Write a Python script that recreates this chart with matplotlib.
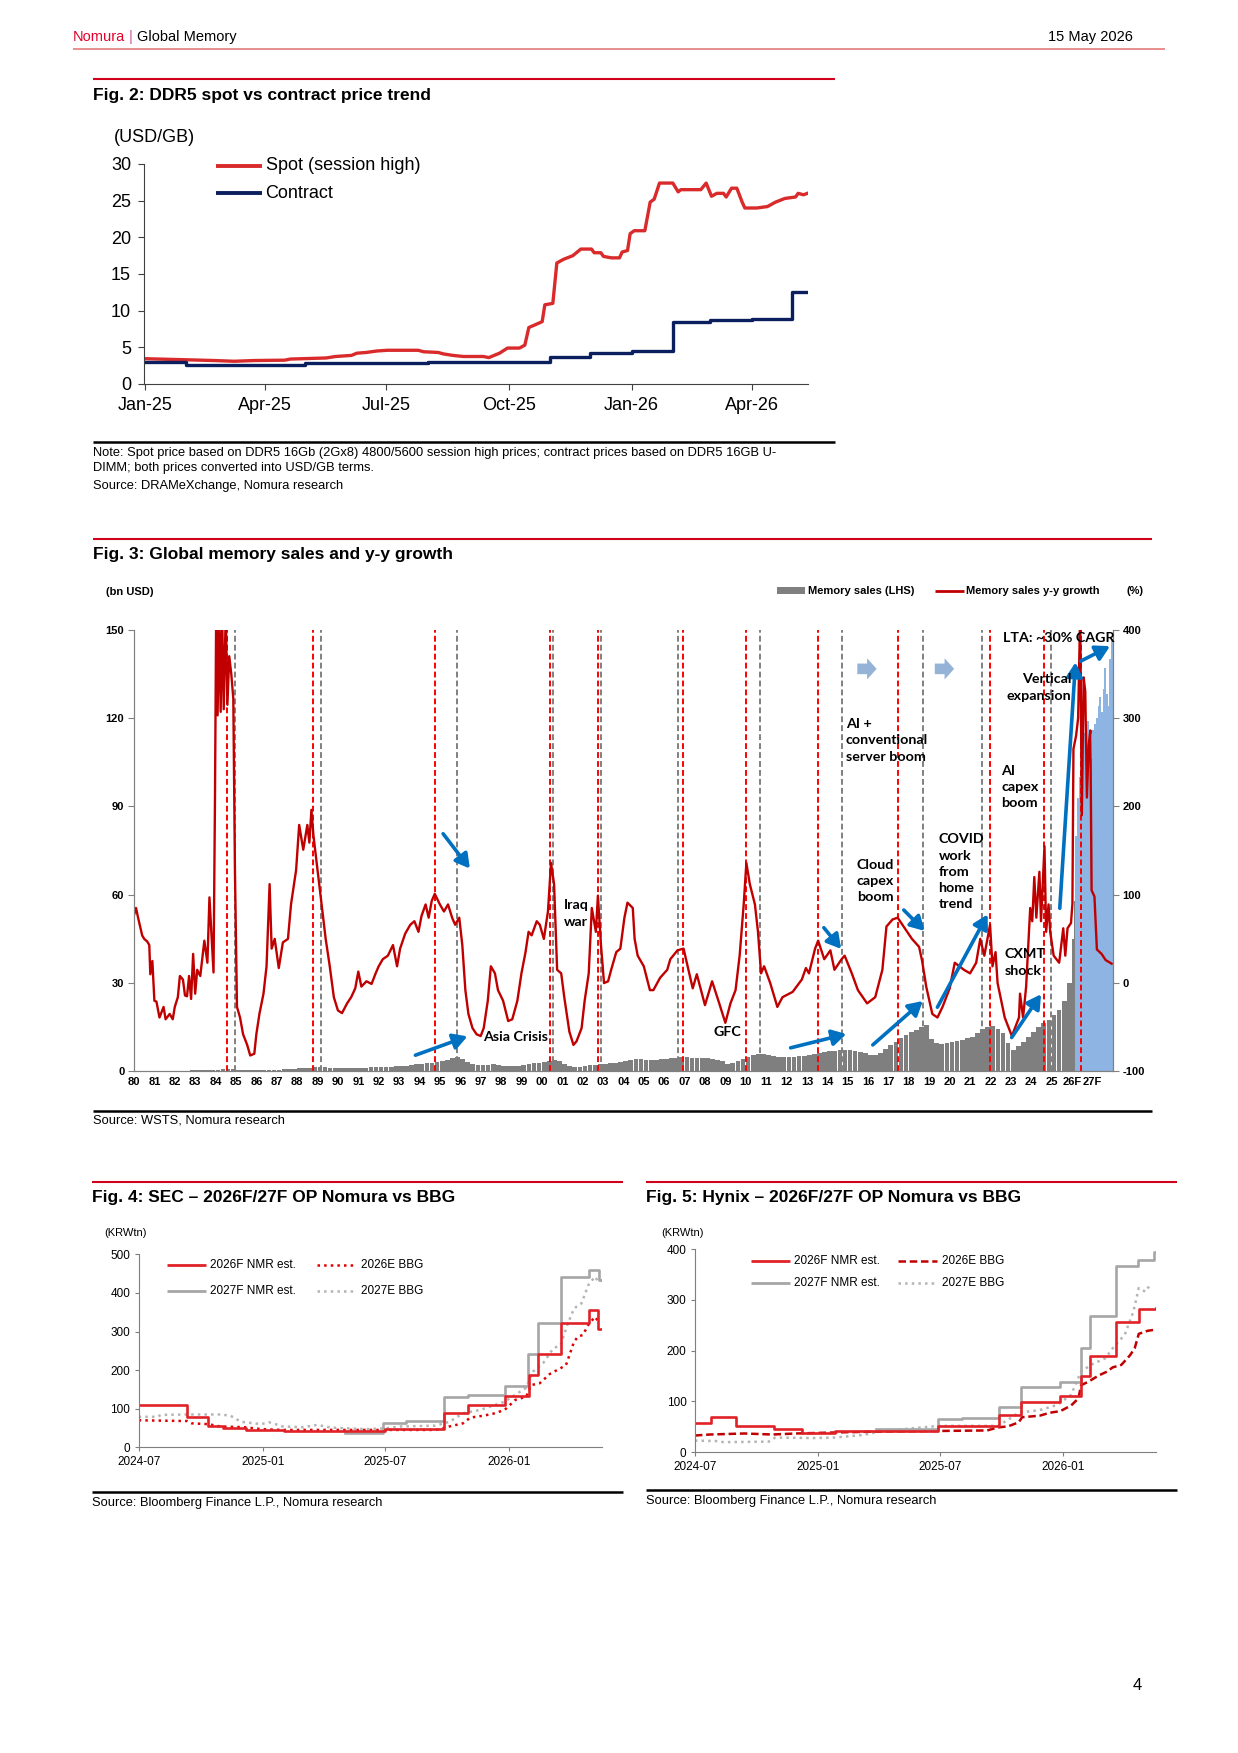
import numpy as np
import pandas as pd
import matplotlib
matplotlib.use("Agg")
import matplotlib.pyplot as plt
import matplotlib.dates as mdates
from matplotlib.patches import FancyArrow, Rectangle

plt.rcParams['font.family'] = ['Liberation Sans', 'DejaVu Sans']
plt.rcParams['axes.unicode_minus'] = False

# ---------------- Fig. 2: DDR5 spot vs contract (USD/GB), days since 1 Jan 2025
spot_day = [0, 32, 52, 67, 82, 105, 109, 136, 143, 155,
            159, 166, 174, 182, 205, 209, 220, 224, 231, 239,
            254, 258, 262, 266, 272, 281, 285, 288, 293, 298,
            300, 306, 309, 314, 321, 327, 335, 337, 342, 344,
            350, 356, 358, 362, 364, 367, 375, 379, 382, 386,
            396, 400, 402, 417, 421, 425, 429, 434, 436, 440,
            444, 448, 450, 459, 467, 473, 480, 488, 490, 494,
            497]
spot_price = [3.45, 3.3, 3.2, 3.1, 3.2, 3.25, 3.4, 3.55, 3.75, 3.9,
              4.2, 4.3, 4.5, 4.6, 4.6, 4.4, 4.3, 4.1, 3.9, 3.75,
              3.75, 3.6, 3.9, 4.2, 4.9, 4.9, 5.3, 7.7, 8.1, 8.5,
              10.8, 11.0, 16.5, 17.0, 17.5, 18.4, 18.4, 17.9, 17.9, 17.4,
              17.2, 17.2, 18.0, 18.2, 20.5, 20.9, 20.9, 24.8, 25.2, 27.4,
              27.4, 26.2, 26.5, 26.5, 27.4, 25.6, 26.0, 26.0, 25.5, 26.7,
              26.7, 24.8, 24.0, 24.0, 24.2, 24.8, 25.3, 25.5, 26.0, 25.8,
              26.0]
contract_month = ['2025-01-01', '2025-02-01', '2025-03-01', '2025-04-01', '2025-05-01',
                  '2025-06-01', '2025-07-01', '2025-08-01', '2025-09-01', '2025-10-01',
                  '2025-11-01', '2025-12-01', '2026-01-01', '2026-02-01', '2026-03-01',
                  '2026-04-01', '2026-05-01', '2026-05-13']
contract_price = [3.0, 2.63, 2.55, 2.55, 2.85, 2.85, 2.85, 3.0, 3.0, 3.0,
                  3.7, 4.2, 4.55, 8.4, 8.7, 8.9, 12.6, 12.6]

# ---------------- Fig. 3: memory sales (bn USD) and y-y growth (%)
growth_year = [1980.0, 1980.1, 1980.2, 1980.4, 1980.5, 1980.65, 1980.75, 1980.8, 1980.9, 1981.0,
               1981.1, 1981.25, 1981.45, 1981.55, 1981.75, 1981.9, 1982.0, 1982.15, 1982.25, 1982.4,
               1982.5, 1982.6, 1982.7, 1982.8, 1982.9, 1983.0, 1983.1, 1983.25, 1983.45, 1983.6,
               1983.7, 1983.9, 1983.97, 1984.03, 1984.1, 1984.17, 1984.25, 1984.32, 1984.4, 1984.5,
               1984.58, 1984.67, 1984.77, 1984.87, 1984.95, 1985.05, 1985.2, 1985.35, 1985.55, 1985.7,
               1985.9, 1986.0, 1986.15, 1986.35, 1986.5, 1986.65, 1986.75, 1986.9, 1987.1, 1987.3,
               1987.55, 1987.7, 1987.95, 1988.1, 1988.3, 1988.5, 1988.6, 1988.7, 1988.8, 1989.0,
               1989.2, 1989.4, 1989.6, 1989.8, 1990.0, 1990.2, 1990.45, 1990.65, 1990.85, 1991.0,
               1991.15, 1991.4, 1991.65, 1991.85, 1992.0, 1992.2, 1992.45, 1992.7, 1992.9, 1993.05,
               1993.3, 1993.55, 1993.75, 1993.95, 1994.1, 1994.3, 1994.45, 1994.6, 1994.75, 1995.0,
               1995.2, 1995.4, 1995.6, 1995.75, 1995.95, 1996.1, 1996.25, 1996.4, 1996.6, 1996.8,
               1997.0, 1997.15, 1997.35, 1997.5, 1997.7, 1997.85, 1998.1, 1998.35, 1998.55, 1998.8,
               1999.0, 1999.2, 1999.35, 1999.5, 1999.75, 1999.9, 2000.1, 2000.3, 2000.45, 2000.6,
               2000.75, 2000.95, 2001.1, 2001.35, 2001.55, 2001.7, 2001.95, 2002.1, 2002.3, 2002.45,
               2002.65, 2002.75, 2002.9, 2003.05, 2003.25, 2003.4, 2003.65, 2003.85, 2004.05, 2004.2,
               2004.46, 2004.55, 2004.7, 2005.0, 2005.3, 2005.47, 2005.8, 2006.15, 2006.3, 2006.65,
               2006.95, 2007.15, 2007.4, 2007.6, 2008.0, 2008.35, 2008.7, 2009.0, 2009.25, 2009.5,
               2009.7, 2009.9, 2010.03, 2010.2, 2010.45, 2010.6, 2010.75, 2010.9, 2011.2, 2011.55,
               2011.8, 2012.3, 2012.75, 2012.95, 2013.1, 2013.4, 2013.55, 2013.85, 2014.15, 2014.35,
               2014.7, 2014.85, 2015.2, 2015.5, 2015.95, 2016.35, 2016.7, 2016.9, 2017.2, 2017.45,
               2017.8, 2018.15, 2018.5, 2018.65, 2018.85, 2019.15, 2019.4, 2019.65, 2020.0, 2020.25,
               2020.7, 2021.0, 2021.3, 2021.5, 2021.7, 2021.98, 2022.1, 2022.25, 2022.35, 2022.7,
               2023.05, 2023.4, 2023.45, 2023.6, 2023.75, 2023.95, 2024.05, 2024.15, 2024.25, 2024.4,
               2024.48, 2024.65, 2024.73, 2024.85, 2024.93, 2025.1, 2025.37, 2025.57, 2025.67, 2025.78,
               2025.95, 2026.02, 2026.07, 2026.2, 2026.3, 2026.4, 2026.48, 2026.57, 2026.65, 2026.73,
               2026.82, 2026.9, 2026.96, 2027.1, 2027.22, 2027.45, 2027.65, 2027.94]
growth_pct = [77, 85, 74, 54, 50, 47, 43, 10, 25, -20,
              -21, -39, -27, -41, -35, -41, -27, -16, 8, 4,
              -14, -15, 8, -18, 33, -12, 15, 8, 48, 23,
              97, 12, 206, 420, 303, 420, 307, 420, 310, 420,
              315, 370, 350, 322, 128, -27, -39, -58, -70, -82,
              -80, -58, -35, -12, 19, 112, 39, 50, 17, 46,
              50, 89, 128, 179, 151, 179, 159, 196, 167, 128,
              89, 50, 19, -16, -31, -34, -23, -16, -6, 13,
              -4, 2, -1, 11, 19, 27, 31, 43, 19, 39,
              56, 66, 70, 58, 76, 89, 74, 93, 101, 89,
              81, 89, 74, 66, 74, 43, -8, -35, -51, -58,
              -60, -51, -20, 19, 11, -8, -20, -43, -41, -20,
              11, 35, 58, 54, 70, 66, 50, 81, 136, 112,
              15, 11, -16, -55, -70, -66, -51, -20, 11, 85,
              58, 99, 43, 0, 2, 15, 35, 39, 74, 91,
              85, 50, 31, 19, -8, -8, 6, 15, 27, 37,
              39, 19, -6, 10, -25, 2, -23, -45, -23, -8,
              31, 89, 136, 112, 89, 58, 11, 19, 0, -27,
              -16, -10, 4, 17, 11, 39, 48, 27, 37, 15,
              27, 31, 11, -8, -23, -16, 15, 64, 72, 74,
              62, 50, 41, 25, -4, -35, -39, -27, -6, 23,
              15, 11, 23, 50, 31, 66, 19, 35, 0, -39,
              -60, -39, -12, -39, -4, 85, 70, 120, 74, 126,
              70, 155, 58, 89, 58, 31, 23, 62, 31, 62,
              68, 90, 265, 280, 300, 420, 190, 346, 330, 210,
              270, 286, 105, 98, 38, 33, 26, 22]

# quarterly sales 1980Q1 .. 2025Q4 (bn USD)
sales_q = [0.3, 0.3, 0.3, 0.3,  0.3, 0.3, 0.3, 0.3,  0.3, 0.3, 0.3, 0.4,  0.4, 0.4, 0.5, 0.5,
           0.6, 0.7, 0.8, 0.8,  0.6, 0.5, 0.5, 0.5,  0.5, 0.5, 0.6, 0.6,  0.6, 0.7, 0.8, 0.9,
           1.0, 1.2, 1.3, 1.4,  1.4, 1.4, 1.3, 1.3,  1.2, 1.2, 1.2, 1.3,  1.3, 1.3, 1.4, 1.4,
           1.4, 1.5, 1.6, 1.7,  1.8, 2.0, 2.2, 2.4,  2.6, 2.8, 3.0, 3.3,  3.6, 4.0, 4.4, 4.9,
           4.3, 3.3, 2.6, 2.3,  2.2, 2.3, 2.4, 2.3,  2.0, 1.8, 1.8, 2.0,  2.3, 2.5, 2.7, 2.9,
           3.3, 3.6, 3.9, 3.6,  2.6, 1.9, 1.5, 1.6,  1.9, 2.2, 2.3, 2.4,  2.5, 2.7, 2.9, 3.2,
           3.6, 3.9, 4.2, 4.3,  4.0, 3.8, 4.0, 4.2,  4.3, 4.5, 4.7, 4.9,  4.9, 4.7, 4.6, 4.6,
           4.5, 4.3, 4.0, 3.4,  2.4, 2.7, 3.4, 4.2,  5.0, 5.6, 6.0, 5.8,  5.4, 5.2, 5.0, 4.9,
           4.9, 5.0, 5.1, 5.3,  5.6, 6.0, 6.3, 6.5,  6.8, 7.0, 7.3, 7.4,  7.3, 7.0, 6.7, 6.3,
           5.6, 5.5, 6.2, 7.5,  8.8, 10.0, 11.3, 12.5,  13.3, 14.2, 15.0, 15.8,  11.0, 9.5, 9.4, 9.8,
           10.0, 10.3, 10.6, 11.2,  11.8, 13.0, 14.5, 15.0,  15.3, 14.5, 13.0, 9.5,  7.3, 8.5, 10.0, 11.8,
           13.5, 15.0, 16.5, 17.5,  19.0, 21.0, 24.0, 30.0]
# monthly sales Jan 2026 .. Dec 2027 (forecast shaded blue from Mar 2026)
sales_m = [45, 58, 80, 93, 100, 108, 113, 115, 118, 119, 112, 106,
           116, 118, 120, 124, 127, 122, 130, 137, 128, 124, 140, 147]
forecast_from = 2

red_events = [1984.56, 1988.79, 1994.77, 2000.38, 2002.73, 2006.94, 2010.03,
              2013.53, 2017.48, 2021.98, 2024.63, 2026.45]
gray_events = [1984.95, 1989.19, 1995.85, 2000.55, 2002.9, 2006.66, 2010.69,
               2014.70, 2018.70, 2021.6, 2024.95]
year_labels = ['%02d' % (y % 100) for y in range(1980, 2026)] + ['26F', '27F']

note_text = ['Asia Crisis', 'Iraq\nwar', 'GFC', 'AI +\nconventional\nserver boom',
             'Cloud\ncapex\nboom', 'COVID\nwork\nfrom\nhome\ntrend', 'AI\ncapex\nboom',
             'CXMT\nshock', 'Vertical\nexpansion', 'LTA: ~30% CAGR']
note_x = [1997.12, 2001.07, 2008.42, 2014.9, 2015.45, 2019.45, 2022.52, 2022.68, 2025.97, 2022.63]
note_y = [11.75, 53.6, 13.3, 112.4, 64.6, 67.8, 96.5, 37.0, 130.4, 147.3]
note_ha = ['left'] * 8 + ['right', 'left']

arrow_from = [(1995.16, 80.7), (1993.8, 5.5), (2012.2, 8.0), (2013.83, 48.8), (2016.23, 9.0),
              (2017.75, 54.8), (2019.4, 21.8), (2023.04, 11.5), (2025.4, 55.4), (2026.42, 139.3)]
arrow_to = [(1996.47, 68.9), (1996.35, 11.9), (2014.93, 12.7), (2014.68, 41.6), (2018.68, 23.9),
            (2018.77, 47.7), (2021.86, 53.3), (2024.48, 26.2), (2026.17, 138.9), (2027.86, 144.4)]
block_arrow_x = [2015.47, 2019.27]

# ---------------- Fig. 4 / 5: OP estimates (KRWtn), days since 1 Jul 2024
sec_nmr26_day = [0, 72, 103, 125, 159, 216, 365, 453, 489, 543, 579, 593, 627, 668, 682, 688]
sec_nmr26 = [109, 78, 56, 49, 44, 41, 47, 90, 110, 134, 187, 243, 321, 356, 307, 307]
sec_nmr27_day = [306, 362, 396, 453, 489, 543, 578, 593, 626, 668, 683, 688]
sec_nmr27 = [38, 62, 68, 131, 136, 159, 241, 323, 441, 459, 433, 433]
sec_bbg26_day = [0, 72, 79, 103, 121, 157, 182, 213, 286, 365,
                 440, 448, 461, 481, 492, 512, 528, 543, 559, 575,
                 582, 595, 610, 626, 634, 646, 652, 659, 667, 677, 682]
sec_bbg26 = [70, 68, 62, 60, 54, 52, 47, 45, 45, 45,
             45, 47, 54, 62, 77, 82, 88, 97, 123, 131,
             161, 166, 190, 205, 213, 274, 287, 291, 317, 338, 326]
sec_bbg27_day = [0, 28, 33, 74, 121, 136, 152, 172, 182, 193,
                 203, 213, 244, 265, 286, 337, 365, 389, 440, 461,
                 481, 507, 543, 554, 574, 585, 600, 615, 626, 636,
                 646, 657, 667, 677, 682, 688]
sec_bbg27 = [79, 79, 84, 85, 85, 82, 66, 62, 60, 65,
             60, 54, 52, 58, 51, 47, 49, 54, 56, 66,
             88, 97, 118, 131, 153, 196, 218, 256, 265, 317,
             360, 373, 420, 442, 429, 433]

hyn_nmr26_day = [0, 24, 61, 118, 159, 209, 363, 453, 487, 544, 576, 590, 628, 662, 687]
hyn_nmr26 = [58, 69, 51, 46, 37, 42, 52, 73, 98, 110, 151, 190, 257, 281, 283]
hyn_nmr27_day = [270, 363, 399, 453, 487, 544, 576, 590, 628, 661, 684, 687]
hyn_nmr27 = [46, 65, 67, 89, 129, 138, 205, 268, 367, 379, 395, 395]
hyn_bbg26_day = [0, 22, 74, 115, 151, 208, 281, 364, 436, 452,
                 467, 483, 488, 514, 530, 545, 561, 572, 576, 587,
                 602, 615, 623, 636, 649, 656, 662, 675, 685]
hyn_bbg26 = [33, 35, 37, 35, 37, 39, 41, 42, 43, 49,
             51, 59, 69, 72, 78, 81, 92, 106, 132, 139,
             151, 159, 167, 172, 191, 205, 233, 239, 241]
hyn_bbg27_day = [0, 37, 42, 110, 120, 177, 208, 250, 281, 364,
                 452, 467, 483, 514, 540, 561, 576, 592, 612, 625,
                 641, 654, 662, 672, 680]
hyn_bbg27 = [23, 22, 20, 21, 29, 28, 29, 34, 42, 52,
             52, 64, 78, 83, 93, 113, 159, 173, 185, 208,
             231, 277, 323, 316, 332]

RED = '#D0021B'
SPOT_RED = '#D92B2B'
NAVY = '#0B1F5E'
GROWTH_RED = '#C00000'
BAR_GRAY = '#7F7F7F'
BAR_BLUE = '#8DB4E2'
ARROW_BLUE = '#0070C0'
NMR_RED = '#E02228'
LT_GRAY = '#A6A6A6'

W, H = 1238, 1753
fig = plt.figure(figsize=(W / 100, H / 100), dpi=100)

# page layer in pixel coordinates
bg = fig.add_axes([0, 0, 1, 1])
bg.set_xlim(0, W)
bg.set_ylim(H, 0)
bg.axis('off')


def rect(left, top, right, bottom):
    return [left / W, 1 - bottom / H, (right - left) / W, (bottom - top) / H]


def rule(y, x0, x1, color, lw):
    bg.plot([x0, x1], [y, y], color=color, lw=lw, solid_capstyle='butt')


# header
t = bg.text(72.8, 37, 'Nomura', color='#E4002B', size=10.5, va='center')
t = bg.annotate(' | ', xy=(1, 0.5), xycoords=t, va='center', ha='left', size=10.5, color='#C8509A')
bg.annotate('Global Memory', xy=(1, 0.5), xycoords=t, va='center', ha='left', size=10.5)
bg.text(1133, 37, '15 May 2026', ha='right', va='center', size=10.5)
rule(49.3, 72.8, 1165, '#E07070', 1.1)
bg.text(1137, 1685, '4', ha='center', va='center', size=12)

# ======================= Fig. 2 =======================
rule(79, 93, 834.5, RED, 1.5)
bg.text(93, 95, 'Fig. 2: DDR5 spot vs contract price trend', weight='bold', size=12.5, va='center')
bg.text(113.6, 137.3, '(USD/GB)', size=13, va='center')

ax2 = fig.add_axes(rect(143.5, 164, 807.5, 384))
ax2.patch.set_visible(False)
d0 = pd.Timestamp('2025-01-01')
ax2.plot(d0 + pd.to_timedelta(spot_day, unit='D'), spot_price, color=SPOT_RED, lw=2.4)
ax2.plot(pd.to_datetime(contract_month), contract_price, color=NAVY, lw=2.4, drawstyle='steps-post')
ax2.set_xlim(d0 - pd.Timedelta(days=1), pd.Timestamp('2026-05-13'))
ax2.set_ylim(0, 30)
ax2.set_yticks(range(0, 31, 5))
ax2.xaxis.set_major_locator(mdates.MonthLocator(bymonth=[1, 4, 7, 10]))
ax2.xaxis.set_major_formatter(mdates.DateFormatter('%b-%y'))
for s in ['top', 'right']:
    ax2.spines[s].set_visible(False)
for s in ['left', 'bottom']:
    ax2.spines[s].set_color('#404040')
ax2.tick_params(labelsize=13, length=4, color='#404040', pad=5)

rule(165.7, 215.6, 261.5, SPOT_RED, 2.8)
bg.text(265.6, 165.7, 'Spot (session high)', size=13, va='center')
rule(193.3, 215.6, 261.5, NAVY, 2.8)
bg.text(265.6, 193.3, 'Contract', size=13, va='center')

rule(441.7, 93, 834.5, 'black', 1.8)
bg.text(93, 453.3, 'Note: Spot price based on DDR5 16Gb (2Gx8) 4800/5600 session high prices; '
        'contract prices based on DDR5 16GB U-', size=9.3, va='center')
bg.text(93, 468.3, 'DIMM; both prices converted into USD/GB terms.', size=9.3, va='center')
bg.text(93, 486, 'Source: DRAMeXchange, Nomura research', size=9.3, va='center')

# ======================= Fig. 3 =======================
rule(539, 93, 1152, RED, 1.5)
bg.text(93, 554.7, 'Fig. 3: Global memory sales and y-y growth', weight='bold', size=12.5, va='center')
bg.text(106, 591.6, '(bn USD)', weight='bold', size=8, va='center')
bg.add_patch(Rectangle((777, 587), 28, 7, color=BAR_GRAY, lw=0))
bg.text(807.5, 590.5, 'Memory sales (LHS)', weight='bold', size=8, va='center')
rule(590.5, 935, 964, GROWTH_RED, 2)
bg.text(966, 590.5, 'Memory sales y-y growth', weight='bold', size=8, va='center')
bg.text(1135, 590.5, '(%)', weight='bold', size=8, va='center', ha='center')

ax3 = fig.add_axes(rect(134, 629.7, 1112.8, 1071.4))
ax3.patch.set_visible(False)
x_q = 1980 + 0.25 * np.arange(len(sales_q))
ax3.bar(x_q, sales_q, width=0.23, align='edge', color=BAR_GRAY, lw=0)
x_m = 2026 + np.arange(len(sales_m)) / 12
m_colors = [BAR_GRAY if i < forecast_from else BAR_BLUE for i in range(len(sales_m))]
ax3.bar(x_m, sales_m, width=1 / 12, align='edge', color=m_colors, lw=0)
for x in gray_events:
    ax3.axvline(x, color='#808080', lw=1.4, ls=(0, (3, 1.6)))
for x in red_events:
    ax3.axvline(x, color='#FF0000', lw=1.4, ls=(0, (3, 1.6)))
ax3.set_xlim(1980, 2028)
ax3.set_ylim(0, 150)
ax3.set_yticks(range(0, 151, 30))
ax3.set_xticks(range(1980, 2028))
ax3.set_xticklabels(year_labels)

ax3r = ax3.twinx()
ax3r.plot(growth_year, growth_pct, color=GROWTH_RED, lw=1.7)
ax3r.set_ylim(-100, 400)
ax3r.set_yticks(range(-100, 401, 100))

for a in (ax3, ax3r):
    a.spines['top'].set_visible(False)
    for s in ['left', 'right', 'bottom']:
        a.spines[s].set_color('#808080')
    a.tick_params(axis='y', labelsize=8, length=4, color='#808080', pad=3)
    for lab in a.get_yticklabels():
        lab.set_fontweight('bold')
ax3.tick_params(axis='x', labelsize=8, length=0, pad=4)
for lab in ax3.get_xticklabels():
    lab.set_fontweight('bold')

for x in block_arrow_x:
    ax3r.add_patch(FancyArrow(x, 136.7, 0.95, 0, width=3.6, head_width=7.2, head_length=0.47,
                              length_includes_head=True, color='#95B3D7', lw=0,
                              transform=ax3.transData))
for p0, p1 in zip(arrow_from, arrow_to):
    ax3r.annotate('', xy=p1, xytext=p0, xycoords=ax3.transData, textcoords=ax3.transData,
                  arrowprops=dict(arrowstyle='-|>,head_length=0.7,head_width=0.4',
                                  color=ARROW_BLUE, lw=2.6, shrinkA=0, shrinkB=0,
                                  mutation_scale=12))
for s, x, y, ha in zip(note_text, note_x, note_y, note_ha):
    ax3r.text(x, y, s, transform=ax3.transData, ha=ha, va='center', multialignment=ha,
              family=['Lato', 'DejaVu Sans'], weight='bold', size=10.3, linespacing=1.42)

rule(1110.6, 93, 1152, 'black', 1.8)
bg.text(93, 1120.6, 'Source: WSTS, Nomura research', size=9.3, va='center')


# ======================= Fig. 4 / 5 =======================
def op_panel(box, ymax, nmr26, nmr27, bbg26, bbg27, bbg26_ls, bbg26_color):
    base = pd.Timestamp('2024-07-01')
    ax = fig.add_axes(box)
    ax.patch.set_visible(False)
    days = lambda d: base + pd.to_timedelta(d, unit='D')
    ax.plot(days(bbg27[0]), bbg27[1], color='#B4B4B4', lw=1.8, ls=':')
    ax.plot(days(bbg26[0]), bbg26[1], color=bbg26_color, lw=1.8, ls=bbg26_ls)
    ax.plot(days(nmr27[0]), nmr27[1], color=LT_GRAY, lw=1.9, drawstyle='steps-post')
    ax.plot(days(nmr26[0]), nmr26[1], color=NMR_RED, lw=1.9, drawstyle='steps-post')
    ax.set_xlim(base, base + pd.Timedelta(days=688))
    ax.set_ylim(0, ymax)
    ax.set_yticks(range(0, ymax + 1, 100))
    ax.xaxis.set_major_locator(mdates.MonthLocator(bymonth=[1, 7]))
    ax.xaxis.set_major_formatter(mdates.DateFormatter('%Y-%m'))
    for s in ['top', 'right']:
        ax.spines[s].set_visible(False)
    for s in ['left', 'bottom']:
        ax.spines[s].set_color('#7F7F7F')
    ax.tick_params(labelsize=8.5, length=3, color='#7F7F7F', pad=3)
    return ax


def op_legend(x_line1, x_line2, y1, y2, bbg26_ls, bbg26_color):
    rule(y1, x_line1, x_line1 + 39, NMR_RED, 2)
    bg.text(x_line1 + 43, y1, '2026F NMR est.', size=8.5, va='center')
    rule(y2, x_line1, x_line1 + 39, LT_GRAY, 2)
    bg.text(x_line1 + 43, y2, '2027F NMR est.', size=8.5, va='center')
    bg.plot([x_line2, x_line2 + 39], [y1, y1], color=bbg26_color, lw=1.8, ls=bbg26_ls)
    bg.text(x_line2 + 44, y1, '2026E BBG', size=8.5, va='center')
    bg.plot([x_line2, x_line2 + 39], [y2, y2], color='#B4B4B4', lw=1.8, ls=':')
    bg.text(x_line2 + 44, y2, '2027E BBG', size=8.5, va='center')


rule(1182.3, 92, 623, RED, 1.5)
bg.text(92, 1197.7, 'Fig. 4: SEC \u2013 2026F/27F OP Nomura vs BBG', weight='bold', size=12.5, va='center')
bg.text(104.7, 1233.3, '(KRWtn)', size=8, va='center')
op_panel(rect(138.7, 1254.3, 602.4, 1447.3), 500,
         (sec_nmr26_day, sec_nmr26), (sec_nmr27_day, sec_nmr27),
         (sec_bbg26_day, sec_bbg26), (sec_bbg27_day, sec_bbg27), ':', '#E00000')
op_legend(167, 317, 1265.3, 1290.7, ':', '#E00000')
rule(1491.7, 92, 623, 'black', 1.8)
bg.text(92, 1503.3, 'Source: Bloomberg Finance L.P., Nomura research', size=9.3, va='center')

rule(1182.3, 646, 1177, RED, 1.5)
bg.text(646.3, 1197.7, 'Fig. 5: Hynix \u2013 2026F/27F OP Nomura vs BBG', weight='bold', size=12.5, va='center')
bg.text(660.9, 1233.3, '(KRWtn)', size=8, va='center')
op_panel(rect(694.9, 1249, 1156.2, 1452.3), 400,
         (hyn_nmr26_day, hyn_nmr26), (hyn_nmr27_day, hyn_nmr27),
         (hyn_bbg26_day, hyn_bbg26), (hyn_bbg27_day, hyn_bbg27), (0, (3, 1.5)), '#C00000')
op_legend(751, 898, 1260.7, 1283.3, (0, (3, 1.5)), '#C00000')
rule(1490, 646, 1177, 'black', 1.8)
bg.text(646, 1501, 'Source: Bloomberg Finance L.P., Nomura research', size=9.3, va='center')

fig.savefig('out.png', dpi=100)
